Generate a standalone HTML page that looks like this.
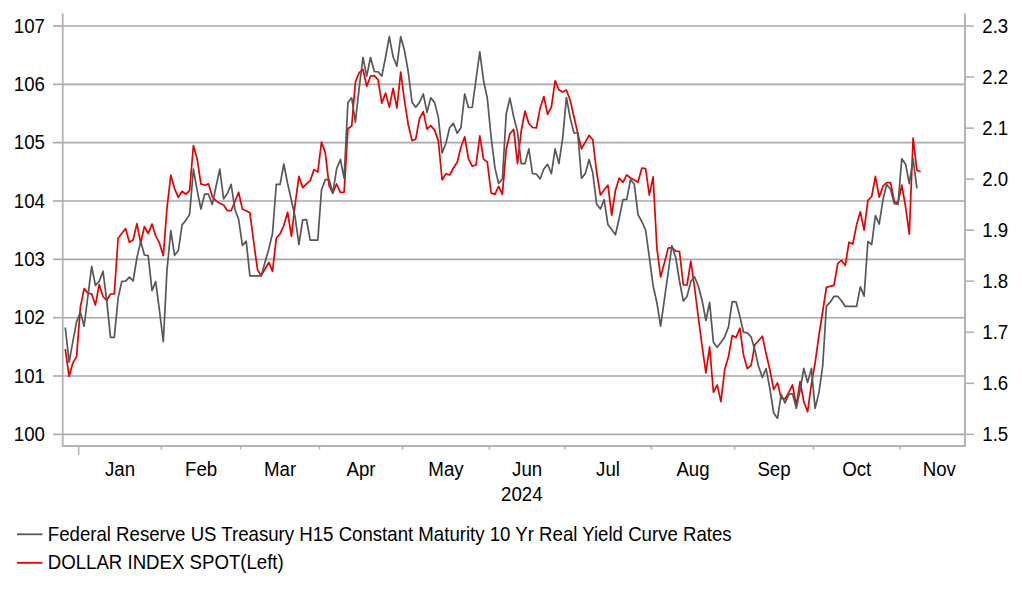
<!DOCTYPE html>
<html><head><meta charset="utf-8"><style>
html,body{margin:0;padding:0;background:#fff;}
body{width:1022px;height:597px;overflow:hidden;}
svg{display:block;font-family:"Liberation Sans",sans-serif;font-size:18.67px;fill:#000;}
</style></head><body>
<svg width="1022" height="597" viewBox="0 0 1022 597">
<g stroke="#a9a9a9" stroke-width="1.6" fill="none"><line x1="62.5" y1="434.35" x2="965.0" y2="434.35"/><line x1="62.5" y1="376.01" x2="965.0" y2="376.01"/><line x1="62.5" y1="317.68" x2="965.0" y2="317.68"/><line x1="62.5" y1="259.34" x2="965.0" y2="259.34"/><line x1="62.5" y1="201.01" x2="965.0" y2="201.01"/><line x1="62.5" y1="142.67" x2="965.0" y2="142.67"/><line x1="62.5" y1="84.34" x2="965.0" y2="84.34"/><line x1="62.5" y1="26.00" x2="965.0" y2="26.00"/><line x1="53" y1="434.35" x2="62.5" y2="434.35"/><line x1="53" y1="376.01" x2="62.5" y2="376.01"/><line x1="53" y1="317.68" x2="62.5" y2="317.68"/><line x1="53" y1="259.34" x2="62.5" y2="259.34"/><line x1="53" y1="201.01" x2="62.5" y2="201.01"/><line x1="53" y1="142.67" x2="62.5" y2="142.67"/><line x1="53" y1="84.34" x2="62.5" y2="84.34"/><line x1="53" y1="26.00" x2="62.5" y2="26.00"/></g>
<g stroke="#b2b2b2" stroke-width="1.6" fill="none"><line x1="965.0" y1="434.35" x2="974" y2="434.35"/><line x1="965.0" y1="383.31" x2="974" y2="383.31"/><line x1="965.0" y1="332.26" x2="974" y2="332.26"/><line x1="965.0" y1="281.22" x2="974" y2="281.22"/><line x1="965.0" y1="230.18" x2="974" y2="230.18"/><line x1="965.0" y1="179.13" x2="974" y2="179.13"/><line x1="965.0" y1="128.09" x2="974" y2="128.09"/><line x1="965.0" y1="77.04" x2="974" y2="77.04"/><line x1="965.0" y1="26.00" x2="974" y2="26.00"/></g>
<g stroke="#b3b3b3" fill="none"><path d="M62.7,13.5 V447.0" stroke-width="1.8"/><path d="M62.5,446.0 H965.0 V13.5" stroke-width="2"/></g>
<g stroke="#b0b0b0" stroke-width="1.5"><line x1="161.5" y1="446.0" x2="161.5" y2="449.5"/><line x1="240.6" y1="446.0" x2="240.6" y2="449.5"/><line x1="319.5" y1="446.0" x2="319.5" y2="449.5"/><line x1="402.5" y1="446.0" x2="402.5" y2="449.5"/><line x1="489.5" y1="446.0" x2="489.5" y2="449.5"/><line x1="564.7" y1="446.0" x2="564.7" y2="449.5"/><line x1="651.4" y1="446.0" x2="651.4" y2="449.5"/><line x1="734.5" y1="446.0" x2="734.5" y2="449.5"/><line x1="813.5" y1="446.0" x2="813.5" y2="449.5"/><line x1="900.0" y1="446.0" x2="900.0" y2="449.5"/><line x1="78.6" y1="446.0" x2="78.6" y2="455"/></g>
<g><text x="45" y="441.05" text-anchor="end" transform="matrix(1 0 0 1.045 0 -19.847)">100</text><text x="45" y="382.71" text-anchor="end" transform="matrix(1 0 0 1.045 0 -17.222)">101</text><text x="45" y="324.38" text-anchor="end" transform="matrix(1 0 0 1.045 0 -14.597)">102</text><text x="45" y="266.04" text-anchor="end" transform="matrix(1 0 0 1.045 0 -11.972)">103</text><text x="45" y="207.71" text-anchor="end" transform="matrix(1 0 0 1.045 0 -9.347)">104</text><text x="45" y="149.37" text-anchor="end" transform="matrix(1 0 0 1.045 0 -6.722)">105</text><text x="45" y="91.04" text-anchor="end" transform="matrix(1 0 0 1.045 0 -4.097)">106</text><text x="45" y="32.70" text-anchor="end" transform="matrix(1 0 0 1.045 0 -1.471)">107</text><text x="982.3" y="441.05" transform="matrix(1 0 0 1.045 0 -19.847)">1.5</text><text x="982.3" y="390.01" transform="matrix(1 0 0 1.045 0 -17.550)">1.6</text><text x="982.3" y="338.96" transform="matrix(1 0 0 1.045 0 -15.253)">1.7</text><text x="982.3" y="287.92" transform="matrix(1 0 0 1.045 0 -12.956)">1.8</text><text x="982.3" y="236.88" transform="matrix(1 0 0 1.045 0 -10.659)">1.9</text><text x="982.3" y="185.83" transform="matrix(1 0 0 1.045 0 -8.362)">2.0</text><text x="982.3" y="134.79" transform="matrix(1 0 0 1.045 0 -6.065)">2.1</text><text x="982.3" y="83.74" transform="matrix(1 0 0 1.045 0 -3.768)">2.2</text><text x="982.3" y="32.70" transform="matrix(1 0 0 1.045 0 -1.472)">2.3</text><text x="120.0" y="476.00" text-anchor="middle" transform="matrix(1 0 0 1.045 0 -21.420)">Jan</text><text x="201.1" y="476.00" text-anchor="middle" transform="matrix(1 0 0 1.045 0 -21.420)">Feb</text><text x="280.1" y="476.00" text-anchor="middle" transform="matrix(1 0 0 1.045 0 -21.420)">Mar</text><text x="361.0" y="476.00" text-anchor="middle" transform="matrix(1 0 0 1.045 0 -21.420)">Apr</text><text x="446.0" y="476.00" text-anchor="middle" transform="matrix(1 0 0 1.045 0 -21.420)">May</text><text x="527.1" y="476.00" text-anchor="middle" transform="matrix(1 0 0 1.045 0 -21.420)">Jun</text><text x="608.0" y="476.00" text-anchor="middle" transform="matrix(1 0 0 1.045 0 -21.420)">Jul</text><text x="693.0" y="476.00" text-anchor="middle" transform="matrix(1 0 0 1.045 0 -21.420)">Aug</text><text x="774.0" y="476.00" text-anchor="middle" transform="matrix(1 0 0 1.045 0 -21.420)">Sep</text><text x="856.8" y="476.00" text-anchor="middle" transform="matrix(1 0 0 1.045 0 -21.420)">Oct</text><text x="939.3" y="476.00" text-anchor="middle" transform="matrix(1 0 0 1.045 0 -21.420)">Nov</text><text x="521.8" y="501.00" text-anchor="middle" transform="matrix(1 0 0 1.045 0 -22.545)">2024</text></g>
<g fill="none" stroke-width="1.7" stroke-linejoin="round">
<path d="M65.3,349.2 L69.1,376.3 L72.8,363.2 L76.6,356.6 L80.4,306.9 L84.1,288.6 L87.9,293.1 L91.7,294.0 L95.4,305.1 L99.2,284.6 L103.0,296.5 L106.7,300.3 L110.5,294.0 L114.3,294.0 L118.1,238.2 L121.8,233.5 L125.6,228.6 L129.4,242.3 L133.1,240.0 L136.9,223.6 L140.7,243.0 L144.4,226.5 L148.2,233.6 L152.0,224.1 L155.7,235.8 L159.5,243.2 L163.3,255.7 L167.0,208.0 L170.8,175.2 L174.6,188.6 L178.3,197.3 L182.1,191.3 L185.9,194.2 L189.6,190.6 L193.4,145.7 L197.2,159.1 L200.9,183.9 L204.7,185.3 L208.5,183.9 L212.3,196.6 L216.0,200.9 L219.8,203.3 L223.6,205.0 L227.3,210.7 L231.1,210.7 L234.9,201.5 L238.6,192.2 L242.4,209.3 L246.2,210.7 L249.9,212.8 L253.7,242.0 L257.5,269.6 L261.2,275.7 L265.0,269.0 L268.8,262.3 L272.5,271.4 L276.3,238.1 L280.1,233.8 L283.8,225.5 L287.6,212.2 L291.4,236.2 L295.1,204.5 L298.9,176.3 L302.7,187.7 L306.5,183.9 L310.2,180.6 L314.0,169.6 L317.8,172.0 L321.5,142.1 L325.3,152.8 L329.1,185.7 L332.8,193.0 L336.6,184.0 L340.4,192.4 L344.1,192.4 L347.9,128.7 L351.7,126.0 L355.4,82.0 L359.2,72.6 L363.0,69.5 L366.7,86.2 L370.5,76.2 L374.3,75.6 L378.0,79.6 L381.8,103.1 L385.6,93.1 L389.3,107.1 L393.1,88.3 L396.9,108.0 L400.7,72.2 L404.4,100.0 L408.2,124.5 L412.0,140.6 L415.7,139.2 L419.5,118.5 L423.3,111.6 L427.0,129.2 L430.8,125.6 L434.6,130.1 L438.3,140.6 L442.1,180.0 L445.9,173.9 L449.6,175.0 L453.4,168.0 L457.2,162.3 L460.9,147.2 L464.7,136.8 L468.5,159.0 L472.2,166.1 L476.0,165.0 L479.8,135.8 L483.5,159.2 L487.3,162.2 L491.1,193.0 L494.9,194.4 L498.6,186.3 L502.4,194.4 L506.2,149.2 L509.9,133.8 L513.7,129.4 L517.5,163.6 L521.2,131.0 L525.0,111.0 L528.8,123.5 L532.5,127.5 L536.3,128.0 L540.1,108.2 L543.8,96.5 L547.6,114.3 L551.4,106.9 L555.1,80.8 L558.9,89.8 L562.7,92.1 L566.4,90.1 L570.2,100.2 L574.0,117.0 L577.7,133.0 L581.5,148.8 L585.3,142.2 L589.1,135.4 L592.8,139.8 L596.6,172.0 L600.4,195.0 L604.1,190.0 L607.9,185.2 L611.7,215.2 L615.4,190.6 L619.2,178.2 L623.0,182.3 L626.7,174.9 L630.5,178.0 L634.3,180.0 L638.0,182.3 L641.8,168.1 L645.6,168.7 L649.3,195.1 L653.1,176.9 L656.9,248.1 L660.6,277.0 L664.4,262.9 L668.2,248.1 L671.9,247.5 L675.7,251.1 L679.5,251.5 L683.3,285.0 L687.0,285.0 L690.8,261.0 L694.6,288.0 L698.3,317.0 L702.1,346.0 L705.9,372.8 L709.6,346.8 L713.4,392.3 L717.2,384.9 L720.9,401.6 L724.7,369.5 L728.5,356.5 L732.2,335.6 L736.0,337.6 L739.8,328.2 L743.5,355.0 L747.3,368.6 L751.1,365.3 L754.8,344.8 L758.6,340.5 L762.4,336.2 L766.1,353.8 L769.9,370.0 L773.7,389.6 L777.5,382.9 L781.2,398.3 L785.0,399.0 L788.8,392.3 L792.5,384.9 L796.3,405.7 L800.1,381.5 L803.8,401.6 L807.6,411.7 L811.4,384.2 L815.1,362.8 L818.9,335.7 L822.7,311.5 L826.4,287.4 L830.2,286.3 L834.0,285.4 L837.7,263.7 L841.5,260.3 L845.3,265.4 L849.0,242.2 L852.8,244.0 L856.6,224.8 L860.3,211.8 L864.1,230.2 L867.9,200.3 L871.7,196.5 L875.4,176.3 L879.2,197.1 L883.0,186.2 L886.7,182.5 L890.5,182.7 L894.3,201.5 L898.0,202.8 L901.8,185.1 L905.6,207.2 L909.3,234.2 L913.1,138.0 L916.9,170.2 L920.6,171.8" stroke="#e60000"/>
<path d="M65.3,327.5 L69.1,362.1 L72.8,341.9 L76.6,321.6 L80.4,312.2 L84.1,326.2 L87.9,296.0 L91.7,266.4 L95.4,285.4 L99.2,281.4 L103.0,271.2 L106.7,300.4 L110.5,337.3 L114.3,337.3 L118.1,298.0 L121.8,281.4 L125.6,281.2 L129.4,277.2 L133.1,281.0 L136.9,257.8 L140.7,241.6 L144.4,255.0 L148.2,255.7 L152.0,290.6 L155.7,281.6 L159.5,311.0 L163.3,341.7 L167.0,270.0 L170.8,230.6 L174.6,255.3 L178.3,250.5 L182.1,224.9 L185.9,220.3 L189.6,214.4 L193.4,169.2 L197.2,190.6 L200.9,209.0 L204.7,194.0 L208.5,194.2 L212.3,204.4 L216.0,186.6 L219.8,169.2 L223.6,199.0 L227.3,193.5 L231.1,184.4 L234.9,209.2 L238.6,219.2 L242.4,245.5 L246.2,241.1 L249.9,275.9 L253.7,275.9 L257.5,275.9 L261.2,275.9 L265.0,262.3 L268.8,248.9 L272.5,233.5 L276.3,184.4 L280.1,184.4 L283.8,164.0 L287.6,183.5 L291.4,200.2 L295.1,217.0 L298.9,244.5 L302.7,219.8 L306.5,219.6 L310.2,240.1 L314.0,240.1 L317.8,240.1 L321.5,189.7 L325.3,179.6 L329.1,179.3 L332.8,193.3 L336.6,168.9 L340.4,159.5 L344.1,178.3 L347.9,102.5 L351.7,97.8 L355.4,122.2 L359.2,87.6 L363.0,57.5 L366.7,76.2 L370.5,57.5 L374.3,71.5 L378.0,71.8 L381.8,76.2 L385.6,57.0 L389.3,36.7 L393.1,56.8 L396.9,66.2 L400.7,36.7 L404.4,50.1 L408.2,71.5 L412.0,102.2 L415.7,107.2 L419.5,102.4 L423.3,94.0 L427.0,112.3 L430.8,97.8 L434.6,102.6 L438.3,117.1 L442.1,152.9 L445.9,143.2 L449.6,127.8 L453.4,123.4 L457.2,133.2 L460.9,127.8 L464.7,94.0 L468.5,107.5 L472.2,107.5 L476.0,79.5 L479.8,51.8 L483.5,80.2 L487.3,98.2 L491.1,137.0 L494.9,167.6 L498.6,183.5 L502.4,179.0 L506.2,114.0 L509.9,98.2 L513.7,117.0 L517.5,131.6 L521.2,163.6 L525.0,163.6 L528.8,148.9 L532.5,173.7 L536.3,174.0 L540.1,179.0 L543.8,169.0 L547.6,164.3 L551.4,173.7 L555.1,148.9 L558.9,163.6 L562.7,138.0 L566.4,97.5 L570.2,118.0 L574.0,133.0 L577.7,133.0 L581.5,178.2 L585.3,173.6 L589.1,159.5 L592.8,172.9 L596.6,204.0 L600.4,209.0 L604.1,199.7 L607.9,224.5 L611.7,229.6 L615.4,234.8 L619.2,218.2 L623.0,199.6 L626.7,199.4 L630.5,179.6 L634.3,184.2 L638.0,214.6 L641.8,221.5 L645.6,230.0 L649.3,256.9 L653.1,285.7 L656.9,302.8 L660.6,326.2 L664.4,299.4 L668.2,272.5 L671.9,245.7 L675.7,257.5 L679.5,281.0 L683.3,301.0 L687.0,296.5 L690.8,281.6 L694.6,276.8 L698.3,286.0 L702.1,300.5 L705.9,320.5 L709.6,302.3 L713.4,342.2 L717.2,347.3 L720.9,342.5 L724.7,336.9 L728.5,326.9 L732.2,301.6 L736.0,301.8 L739.8,316.1 L743.5,332.2 L747.3,332.9 L751.1,336.9 L754.8,349.8 L758.6,366.5 L762.4,377.5 L766.1,368.7 L769.9,388.9 L773.7,413.0 L777.5,418.4 L781.2,394.3 L785.0,403.0 L788.8,394.3 L792.5,393.6 L796.3,408.3 L800.1,390.3 L803.8,368.4 L807.6,382.6 L811.4,368.4 L815.1,408.3 L818.9,392.9 L822.7,366.0 L826.4,306.2 L830.2,302.2 L834.0,296.3 L837.7,296.3 L841.5,300.8 L845.3,306.4 L849.0,306.4 L852.8,306.4 L856.6,306.4 L860.3,286.8 L864.1,296.1 L867.9,241.5 L871.7,244.5 L875.4,215.6 L879.2,224.2 L883.0,199.6 L886.7,184.5 L890.5,189.3 L894.3,203.7 L898.0,204.3 L901.8,158.8 L905.6,164.2 L909.3,183.6 L913.1,158.8 L916.9,188.3" stroke="#575757"/>
</g>
<g stroke-width="1.8"><line x1="17" y1="534.3" x2="42.5" y2="534.3" stroke="#575757"/><line x1="17" y1="562.8" x2="42.5" y2="562.8" stroke="#e60000"/></g>
<g style="font-size:18.64px"><text x="47.8" y="541.10" transform="matrix(1 0 0 1.045 0 -24.349)">Federal Reserve US Treasury H15 Constant Maturity 10 Yr Real Yield Curve Rates</text>
<text x="47.8" y="569.00" transform="matrix(1 0 0 1.045 0 -25.605)">DOLLAR INDEX SPOT(Left)</text></g>
</svg>
</body></html>
